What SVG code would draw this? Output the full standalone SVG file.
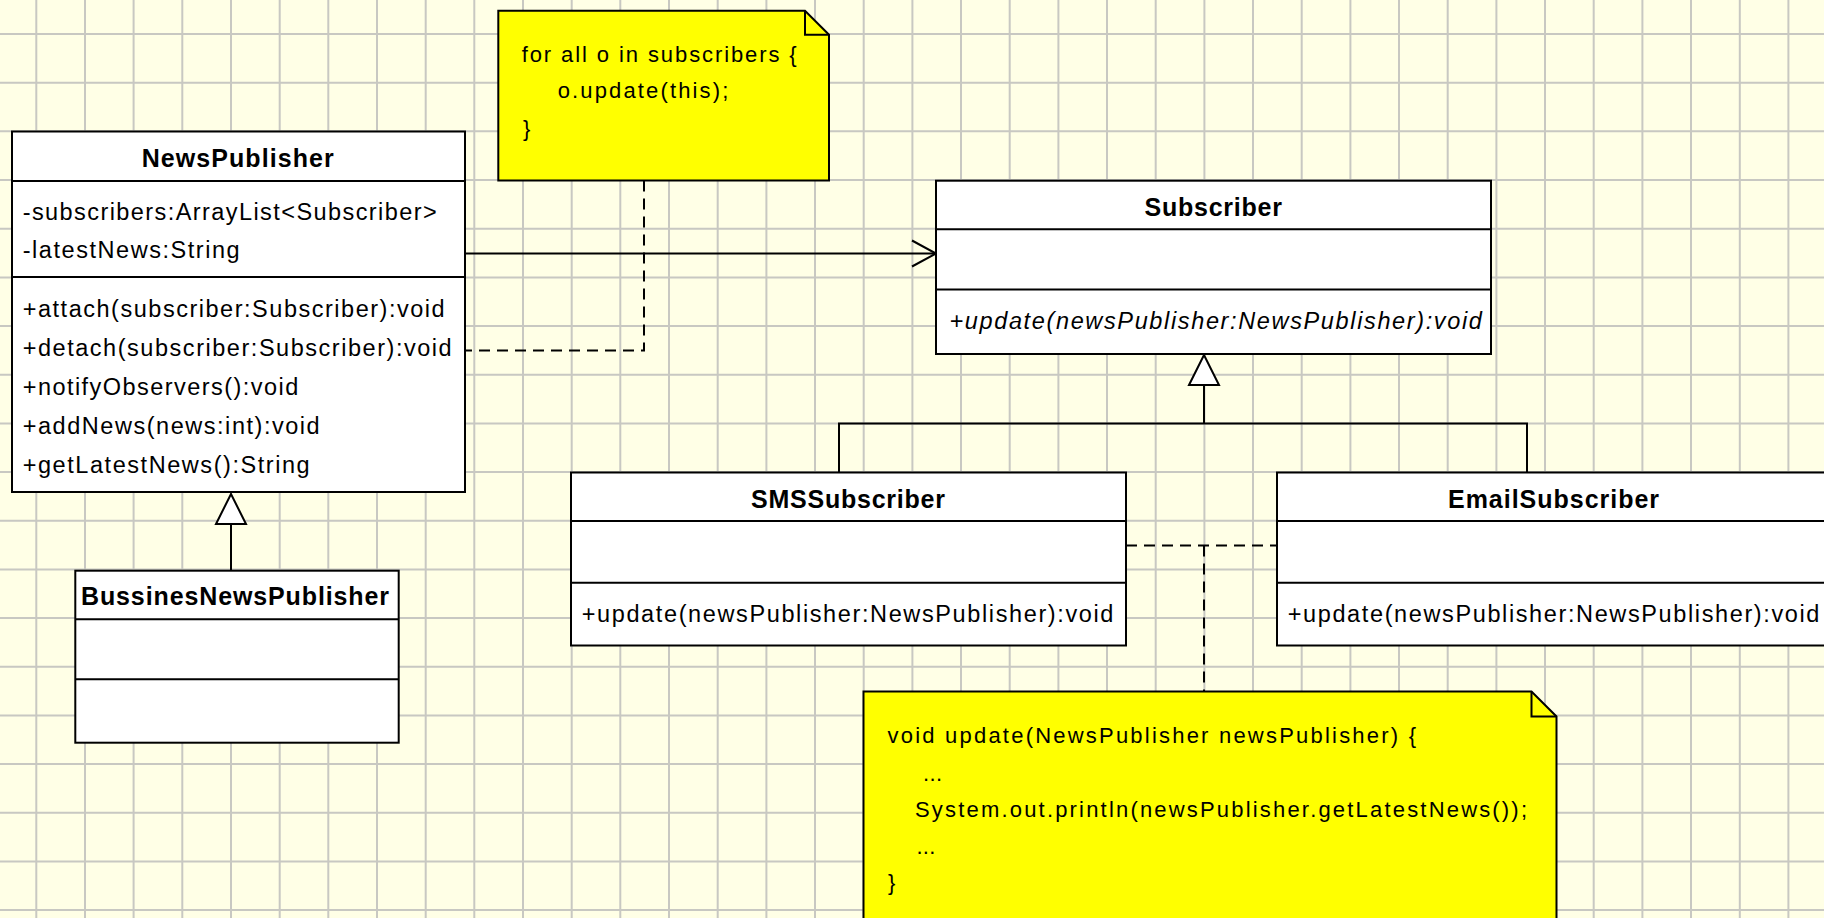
<svg xmlns="http://www.w3.org/2000/svg" width="1824" height="918" viewBox="0 0 1824 918">
  <style>
    .grid { stroke:#C8C8C2; stroke-width:2; fill:none; }
    .box { fill:#FFFFFF; stroke:#000000; stroke-width:2; }
    .sep { stroke:#000000; stroke-width:2; }
    .note { fill:#FFFF00; stroke:#000000; stroke-width:2; }
    .fold { fill:none; stroke:#000000; stroke-width:2; }
    .line { fill:none; stroke:#000000; stroke-width:2; }
    .dash { stroke-dasharray:11 7; }
    text { font-family:"Liberation Sans", Arial, sans-serif; fill:#000000; }
    .name { font-size:25px; font-weight:bold; }
    .mem { font-size:23.5px; }
    .abs { font-style:italic; }
    .ntxt { font-size:22px; }
  </style>
  <defs>
    <marker id="openArrow" markerUnits="userSpaceOnUse" markerWidth="30" markerHeight="30" refX="24" refY="13" orient="auto" overflow="visible">
      <path d="M0,0 L24,13 L0,26" fill="none" stroke="#000000" stroke-width="2"/>
    </marker>
    <marker id="genTri" markerUnits="userSpaceOnUse" markerWidth="32" markerHeight="32" refX="30" refY="15" orient="auto" overflow="visible">
      <polygon points="0,0 30,15 0,30" fill="#FFFFFF" stroke="#000000" stroke-width="2"/>
    </marker>
  </defs>

  <!-- canvas -->
  <rect x="0" y="0" width="1824" height="918" fill="#FFFFE6"/>
  <path class="grid" d="M36.3,0V918 M85,0V918 M133.6,0V918 M182.3,0V918 M231,0V918 M279.7,0V918 M328.3,0V918 M377,0V918 M425.7,0V918 M474.3,0V918 M523,0V918 M571.7,0V918 M620.3,0V918 M669,0V918 M717.7,0V918 M766.4,0V918 M815,0V918 M863.7,0V918 M912.4,0V918 M961,0V918 M1009.7,0V918 M1058.4,0V918 M1107,0V918 M1155.7,0V918 M1204.4,0V918 M1253,0V918 M1301.7,0V918 M1350.4,0V918 M1399,0V918 M1447.7,0V918 M1496.4,0V918 M1545,0V918 M1593.7,0V918 M1642.4,0V918 M1691,0V918 M1739.8,0V918 M1788.4,0V918
    M0,34H1824 M0,82.7H1824 M0,131.3H1824 M0,180H1824 M0,228.7H1824 M0,277.4H1824 M0,326H1824 M0,374.7H1824 M0,423.4H1824 M0,472H1824 M0,520.7H1824 M0,569.4H1824 M0,618H1824 M0,666.7H1824 M0,715.4H1824 M0,764H1824 M0,812.7H1824 M0,861.4H1824 M0,910H1824"/>

  <!-- connectors -->
  <g id="connectors">
    <path class="line" d="M465,253.5 H936" marker-end="url(#openArrow)"/>
    <path class="line dash" d="M644,180.5 V350.5 H465"/>
    <path class="line" d="M231,570.7 V494" marker-end="url(#genTri)"/>
    <path class="line" d="M839,472.5 V423.4 H1527 V472.5"/>
    <path class="line" d="M1204,423.4 V355" marker-end="url(#genTri)"/>
    <path class="line dash" d="M1126,545.5 H1277"/>
    <path class="line dash" d="M1204,545.5 V691.5"/>
  </g>

  <!-- notes -->
  <g id="note-notify">
    <path class="note" d="M498.3,10.7 H805 L829,34.7 V180.5 H498.3 Z"/>
    <path class="fold" d="M805,10.7 V34.7 H829"/>
    <text class="ntxt" x="521.7" y="61.7" textLength="275">for all o in subscribers {</text>
    <text class="ntxt" x="557.7" y="98.3" textLength="170.6">o.update(this);</text>
    <text class="ntxt" x="523" y="136">}</text>
  </g>

  <g id="note-update">
    <path class="note" d="M863.5,691.5 H1531.5 L1556.5,716.5 V930 H863.5 Z"/>
    <path class="fold" d="M1531.5,691.5 V716.5 H1556.5"/>
    <text class="ntxt" x="887.5" y="743.3" textLength="528.5">void update(NewsPublisher newsPublisher) {</text>
    <text class="ntxt" x="923" y="780.7" textLength="19">...</text>
    <text class="ntxt" x="915" y="816.7" textLength="612">System.out.println(newsPublisher.getLatestNews());</text>
    <text class="ntxt" x="916.4" y="854" textLength="19">...</text>
    <text class="ntxt" x="888" y="890">}</text>
  </g>

  <!-- classes -->
  <g id="NewsPublisher">
    <rect class="box" x="12" y="131.5" width="453" height="360.5"/>
    <line class="sep" x1="12" y1="181" x2="465" y2="181"/>
    <line class="sep" x1="12" y1="277" x2="465" y2="277"/>
    <text class="name" x="141.7" y="166.5" textLength="192">NewsPublisher</text>
    <text class="mem" x="22.7" y="220" textLength="414">-subscribers:ArrayList&lt;Subscriber&gt;</text>
    <text class="mem" x="22.7" y="258" textLength="217">-latestNews:String</text>
    <text class="mem" x="22.7" y="316.5" textLength="422">+attach(subscriber:Subscriber):void</text>
    <text class="mem" x="22.7" y="355.5" textLength="429">+detach(subscriber:Subscriber):void</text>
    <text class="mem" x="22.7" y="394.5" textLength="275.6">+notifyObservers():void</text>
    <text class="mem" x="22.7" y="433.5" textLength="297">+addNews(news:int):void</text>
    <text class="mem" x="22.7" y="472.5" textLength="287">+getLatestNews():String</text>
  </g>

  <g id="BussinesNewsPublisher">
    <rect class="box" x="75.3" y="570.7" width="323.4" height="172"/>
    <line class="sep" x1="75.3" y1="619.3" x2="398.7" y2="619.3"/>
    <line class="sep" x1="75.3" y1="679.3" x2="398.7" y2="679.3"/>
    <text class="name" x="81" y="605" textLength="308">BussinesNewsPublisher</text>
  </g>

  <g id="Subscriber">
    <rect class="box" x="936" y="180.7" width="555" height="173.3"/>
    <line class="sep" x1="936" y1="229.3" x2="1491" y2="229.3"/>
    <line class="sep" x1="936" y1="289.5" x2="1491" y2="289.5"/>
    <text class="name" x="1144.5" y="215.5" textLength="137.5">Subscriber</text>
    <text class="mem abs" x="949.4" y="328.5" textLength="532.5">+update(newsPublisher:NewsPublisher):void</text>
  </g>

  <g id="SMSSubscriber">
    <rect class="box" x="571" y="472.5" width="555" height="173"/>
    <line class="sep" x1="571" y1="521" x2="1126" y2="521"/>
    <line class="sep" x1="571" y1="582.7" x2="1126" y2="582.7"/>
    <text class="name" x="751" y="507.5" textLength="194">SMSSubscriber</text>
    <text class="mem" x="581.7" y="621.5" textLength="531.7">+update(newsPublisher:NewsPublisher):void</text>
  </g>

  <g id="EmailSubscriber">
    <rect class="box" x="1277" y="472.5" width="555" height="173"/>
    <line class="sep" x1="1277" y1="521" x2="1832" y2="521"/>
    <line class="sep" x1="1277" y1="582.7" x2="1832" y2="582.7"/>
    <text class="name" x="1448" y="507.5" textLength="211">EmailSubscriber</text>
    <text class="mem" x="1287.7" y="621.5" textLength="531.7">+update(newsPublisher:NewsPublisher):void</text>
  </g>
</svg>
